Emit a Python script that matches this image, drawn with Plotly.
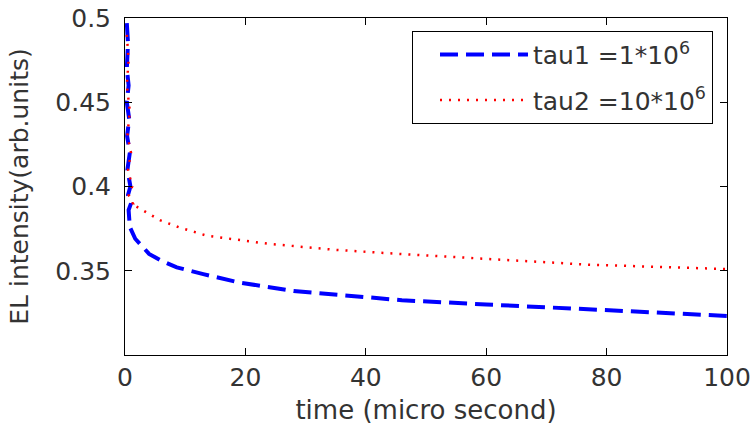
import plotly.graph_objects as go

# ---- data ----
tau1_x = [0.3, 0.5, 0.3, 0.6, 0.3, 0.7, 0.35, 0.8, 0.4, 0.9, 0.5, 1.0, 0.6, 0.8, 0.8,
          1.7, 3, 4, 6, 8.6, 13, 19, 28, 37, 46, 60, 78, 100]
tau1_y = [0.497, 0.485, 0.47, 0.46, 0.45, 0.44, 0.43, 0.42, 0.41, 0.40, 0.395, 0.39, 0.386, 0.38, 0.376,
          0.369, 0.364, 0.360, 0.356, 0.352, 0.348, 0.343, 0.338, 0.335, 0.3325, 0.330, 0.3268, 0.3232]

tau2_x = [0.3, 0.6, 0.3, 0.8, 0.4, 1.0, 0.5, 1.2, 0.6, 1.3, 1.0,
          2.2, 4.1, 5.8, 9.1, 13.6, 23.6, 34.6, 45.5, 60, 77, 100]
tau2_y = [0.49, 0.475, 0.46, 0.445, 0.43, 0.42, 0.41, 0.40, 0.395, 0.39, 0.39,
          0.3875, 0.384, 0.380, 0.3756, 0.3708, 0.3661, 0.3625, 0.360, 0.357, 0.3536, 0.351]

x_ticks = [0, 20, 40, 60, 80, 100]
y_ticks = [0.35, 0.4, 0.45, 0.5]
y_tick_text = ["0.35", "0.4", "0.45", "0.5"]

names = ["tau1 =1*10<sup>6</sup>", "tau2 =10*10<sup>6</sup>"]

FONT = "DejaVu Sans, Verdana, sans-serif"
TXT = "#333333"

fig = go.Figure()
fig.add_trace(go.Scatter(x=tau1_x, y=tau1_y, mode="lines", name=names[0], legendgroup="a",
                         line=dict(color="#0000ff", width=4, dash="18px,8px")))
fig.add_trace(go.Scatter(x=tau2_x, y=tau2_y, mode="lines", name=names[1], legendgroup="b",
                         line=dict(color="#ff0000", width=2.5, dash="2px,7px")))

axis_common = dict(showline=True, linecolor="black", linewidth=1, mirror="ticks",
                   ticks="inside", ticklen=7, tickcolor="black", showgrid=False,
                   zeroline=False, tickfont=dict(family=FONT, size=25, color=TXT))

fig.update_xaxes(range=[0, 100], tickvals=x_ticks, **axis_common,
                 title=dict(text="time (micro second)", font=dict(family=FONT, size=26, color=TXT),
                            standoff=9))
fig.update_yaxes(range=[0.3, 0.5], tickvals=y_ticks, ticktext=y_tick_text, **axis_common,
                 ticklabelstandoff=8,
                 title=dict(text="EL intensity(arb.units)", font=dict(family=FONT, size=25, color=TXT),
                            standoff=19))

fig.update_layout(
    width=753, height=429,
    margin=dict(l=125, r=26, t=18, b=74, autoexpand=False),
    paper_bgcolor="white", plot_bgcolor="white",
    showlegend=True,
    legend=dict(x=0.9767, xanchor="right", y=0.962, yanchor="top",
                bgcolor="white", bordercolor="black", borderwidth=1,
                font=dict(family=FONT, size=25, color=TXT),
                itemwidth=88, indentation=22, tracegroupgap=10),
)

fig.write_html("out.html", config={"displayModeBar": False},
               post_script="document.body.style.margin='0px';")
